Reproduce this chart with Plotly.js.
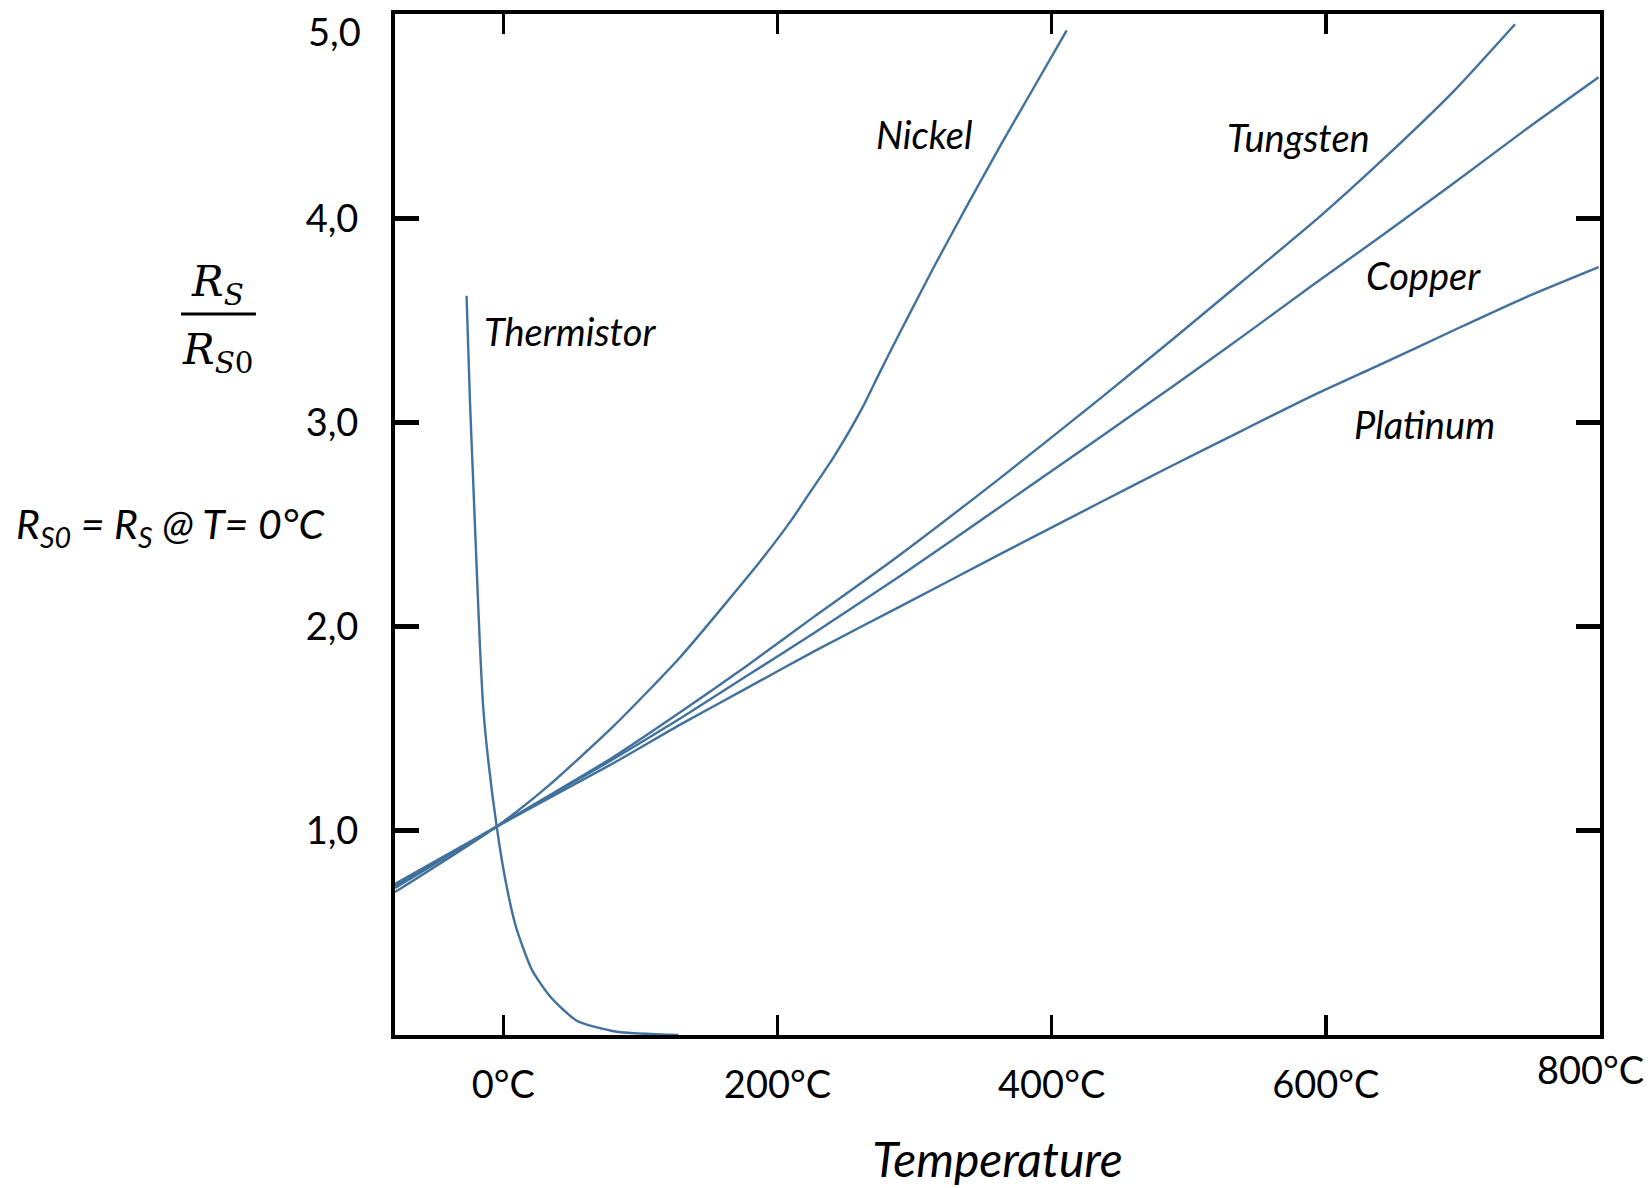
<!DOCTYPE html>
<html>
<head>
<meta charset="utf-8">
<script src="https://cdn.plot.ly/plotly-3.0.1.min.js"></script>
<style>
  html, body { margin: 0; padding: 0; background: #ffffff; }
  #chart { width: 1651px; height: 1188px; }
</style>
</head>
<body>
<div id="chart"></div>
<script>
// ---- tick labels ----
const temperatureTicks = [0, 200, 400, 600, 800];
const temperatureTickText = ['0°C', '200°C', '400°C', '600°C', '800°C'];
const ratioTicks = [1, 2, 3, 4, 5];
const ratioTickText = ['1,0', '2,0', '3,0', '4,0', '5,0'];

// ---- series (temperature °C, Rs/Rs0) ----
const seriesNames = ['Thermistor', 'Nickel', 'Tungsten', 'Copper', 'Platinum'];

const thermistorT = [-26.8, -24.3, -21.9, -19.5, -17, -14.6, -10.9, -4.8, 1.5, 9.2, 20.8, 34, 53.6, 82.8, 127.8];
const thermistorR = [3.62, 3.10, 2.70, 2.30, 1.90, 1.60, 1.34, 1.02, 0.76, 0.53, 0.32, 0.19, 0.07, 0.016, 0.0];

const nickelT = [-79, -5, 32, 80, 129, 188, 210, 222, 241, 261, 275, 287, 297, 314, 339, 363, 387, 411];
const nickelR = [0.70, 1.02, 1.215, 1.51, 1.85, 2.325, 2.52, 2.64, 2.83, 3.06, 3.25, 3.41, 3.54, 3.76, 4.07, 4.36, 4.64, 4.92];

const tungstenT = [-79, -5, 80, 129, 178, 227, 285, 361, 436, 487, 539, 596, 642, 693, 738];
const tungstenR = [0.72, 1.02, 1.36, 1.58, 1.81, 2.05, 2.33, 2.72, 3.12, 3.40, 3.69, 4.01, 4.29, 4.62, 4.95];

const copperT = [-79, -5, 80, 129, 178, 227, 290, 361, 436, 487, 539, 590, 642, 693, 745, 799];
const copperR = [0.73, 1.02, 1.35, 1.55, 1.76, 1.97, 2.25, 2.58, 2.93, 3.17, 3.42, 3.67, 3.92, 4.17, 4.43, 4.69];

const platinumT = [-79, -5, 80, 129, 178, 227, 290, 361, 436, 487, 539, 590, 642, 693, 745, 799];
const platinumR = [0.74, 1.02, 1.33, 1.52, 1.70, 1.88, 2.10, 2.35, 2.61, 2.785, 2.96, 3.13, 3.29, 3.45, 3.61, 3.76];

const lineColor = '#41719C';
function curve(name, x, y) {
  return {
    type: 'scatter', mode: 'lines', name: name, x: x, y: y,
    line: { color: lineColor, width: 2.4, shape: 'spline', smoothing: 0.6 },
    hoverinfo: 'x+y+name'
  };
}

const data = [
  curve(seriesNames[0], thermistorT, thermistorR),
  curve(seriesNames[1], nickelT, nickelR),
  curve(seriesNames[2], tungstenT, tungstenR),
  curve(seriesNames[3], copperT, copperR),
  curve(seriesNames[4], platinumT, platinumR)
];

const baseFont = 'Lato, "Open Sans", sans-serif';
const labelFont = { family: baseFont, size: 38, color: '#000000', style: 'italic' };
function curveLabel(text, x, y) {
  return { text: text, x: x, y: y, xref: 'x', yref: 'y', showarrow: false,
           font: labelFont, xanchor: 'center', yanchor: 'middle' };
}

const layout = {
  width: 1651,
  height: 1188,
  margin: { l: 395, r: 51, t: 14, b: 153 },
  paper_bgcolor: '#ffffff',
  plot_bgcolor: '#ffffff',
  showlegend: false,
  font: { family: baseFont, color: '#000000' },
  xaxis: {
    range: [-79, 800],
    showgrid: false, zeroline: false,
    showline: true, linecolor: '#000000', linewidth: 4, mirror: 'allticks',
    ticks: 'inside', ticklen: 20, tickwidth: 3.5, tickcolor: '#000000',
    tickmode: 'array', tickvals: temperatureTicks.slice(0, 4), ticktext: temperatureTickText.slice(0, 4),
    tickfont: { size: 38, color: '#000000' },
    ticklabelstandoff: 13,
    title: { text: 'Temperature', standoff: 40,
             font: { size: 48, color: '#000000', style: 'italic' } }
  },
  yaxis: {
    range: [0, 5],
    showgrid: false, zeroline: false,
    showline: true, linecolor: '#000000', linewidth: 4, mirror: 'allticks',
    ticks: 'inside', ticklen: 24, tickwidth: 5, tickcolor: '#000000',
    tickmode: 'array', tickvals: ratioTicks.slice(0, 4), ticktext: ratioTickText.slice(0, 4),
    tickfont: { size: 38, color: '#000000' },
    ticklabelstandoff: 25
  },
  annotations: [
    curveLabel(seriesNames[0], 49, 3.45),
    curveLabel(seriesNames[1], 307, 4.41),
    curveLabel(seriesNames[2], 580, 4.40),
    curveLabel(seriesNames[3], 671, 3.72),
    curveLabel(seriesNames[4], 672, 2.99),
    // edge tick labels (drawn slightly inside the frame, as in the reference)
    { text: ratioTickText[4], xref: 'paper', yref: 'paper', x: -0.0266, y: 0.983,
      showarrow: false, xanchor: 'right', yanchor: 'middle',
      font: { family: baseFont, size: 38, color: '#000000' } },
    { text: temperatureTickText[4], xref: 'paper', yref: 'paper', x: 0.9925, y: -0.0333,
      showarrow: false, xanchor: 'center', yanchor: 'middle',
      font: { family: baseFont, size: 38, color: '#000000' } },
    // y-axis label: Rs / Rs0
    { text: '<i>R</i><sub><i>S</i></sub>', xref: 'paper', yref: 'paper', x: -0.1469, y: 0.735,
      showarrow: false, xanchor: 'center', yanchor: 'middle',
      font: { family: '"DejaVu Serif", serif', size: 42, color: '#000000' } },
    { text: '<i>R</i><sub><i>S</i>0</sub>', xref: 'paper', yref: 'paper', x: -0.1469, y: 0.668,
      showarrow: false, xanchor: 'center', yanchor: 'middle',
      font: { family: '"DejaVu Serif", serif', size: 42, color: '#000000' } },
    { text: 'R<sub>S0</sub> = R<sub>S</sub> @ T= 0°C', xref: 'paper', yref: 'paper', x: -0.1862, y: 0.498,
      showarrow: false, xanchor: 'center', yanchor: 'middle',
      font: { family: baseFont, size: 41, color: '#000000', style: 'italic' } }
  ],
  shapes: [
    { type: 'line', xref: 'paper', yref: 'paper', x0: -0.1776, x1: -0.1154, y0: 0.7062, y1: 0.7062,
      line: { color: '#000000', width: 3 } }
  ]
};

Plotly.newPlot('chart', data, layout, { displayModeBar: false, staticPlot: true });
</script>
</body>
</html>
